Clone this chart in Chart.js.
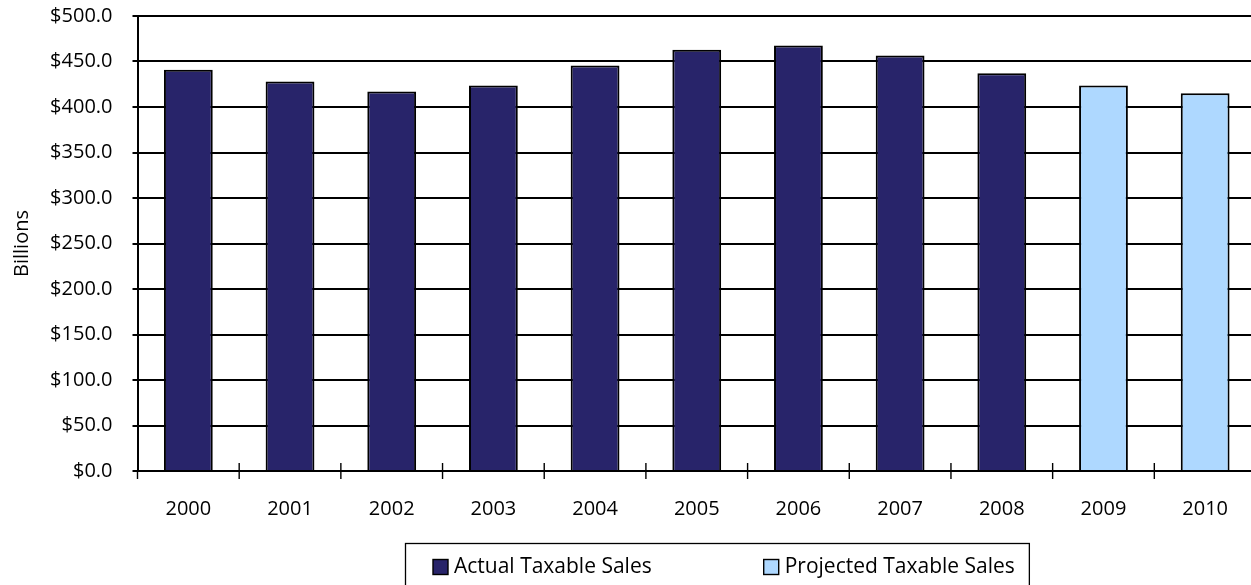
<!DOCTYPE html>
<html>
<head>
<meta charset="utf-8">
<script src="https://cdn.jsdelivr.net/npm/chart.js@4"></script>
<style>
  html, body { margin: 0; padding: 0; background: #fff; overflow: hidden; }
  #wrap { position: absolute; left: 0; top: 0; width: 1262px; height: 585px; }
</style>
</head>
<body>
<div id="wrap"><canvas id="salesChart"></canvas></div>
<script>
const years = ['2000', '2001', '2002', '2003', '2004', '2005', '2006', '2007', '2008', '2009', '2010'];
const actualSales = [441, 428, 417, 423.5, 445.5, 463, 467.5, 456.5, 437, null, null];
const projectedSales = [null, null, null, null, null, null, null, null, null, 423.5, 415];
const yTicks = [0, 50, 100, 150, 200, 250, 300, 350, 400, 450, 500];

const axisFont = { family: 'Open Sans', size: 20 };
const legendFont = '21px "Open Sans"';

// tick marks on the category axis, crossing the axis line between years
const crossTicks = {
  id: 'crossTicks',
  afterDraw(chart) {
    const x = chart.scales.x;
    const ctx = chart.ctx;
    const step = x.getPixelForValue(1) - x.getPixelForValue(0);
    const y0 = chart.chartArea.bottom;
    ctx.save();
    ctx.strokeStyle = '#000';
    ctx.lineWidth = 1.4;
    ctx.beginPath();
    for (let i = 0; i <= years.length; i++) {
      const px = x.getPixelForValue(i) - step / 2;
      ctx.moveTo(px, i === 0 ? y0 : y0 - 8);
      ctx.lineTo(px, y0 + 8);
    }
    ctx.stroke();
    ctx.restore();
  }
};

// boxed legend under the axis
const boxLegend = {
  id: 'boxLegend',
  afterDraw(chart) {
    const ctx = chart.ctx;
    const area = chart.chartArea;
    const sets = chart.data.datasets;
    ctx.save();
    ctx.font = legendFont;
    ctx.textBaseline = 'middle';
    const box = 15, gapText = 6, gapItem = 112, padX = 28;
    let total = 0;
    sets.forEach((ds, i) => {
      total += box + gapText + ctx.measureText(ds.label).width;
      if (i < sets.length - 1) total += gapItem;
    });
    const boxW = total + padX + 14;
    const left = 405;
    const top = area.bottom + 72;
    const cy = top + 24;
    ctx.strokeStyle = '#000';
    ctx.lineWidth = 1.3;
    ctx.strokeRect(left + 0.5, top + 0.5, boxW, 60);
    let px = left + padX;
    sets.forEach((ds) => {
      ctx.fillStyle = ds.backgroundColor;
      ctx.fillRect(px, cy - box / 2, box, box);
      ctx.lineWidth = 1.4;
      ctx.strokeRect(px, cy - box / 2, box, box);
      px += box + gapText;
      ctx.fillStyle = '#000';
      ctx.fillText(ds.label, px, cy);
      px += ctx.measureText(ds.label).width + gapItem;
    });
    ctx.restore();
  }
};

new Chart(document.getElementById('salesChart'), {
  type: 'bar',
  data: {
    labels: years,
    datasets: [
      {
        label: 'Actual Taxable Sales',
        data: actualSales,
        backgroundColor: '#28246a',
        borderColor: '#000',
        borderWidth: 2,
        grouped: false,
        categoryPercentage: 0.8,
        barPercentage: 0.6
      },
      {
        label: 'Projected Taxable Sales',
        data: projectedSales,
        backgroundColor: '#aed8ff',
        borderColor: '#000',
        borderWidth: 2,
        grouped: false,
        categoryPercentage: 0.8,
        barPercentage: 0.6
      }
    ]
  },
  options: {
    responsive: true,
    maintainAspectRatio: false,
    animation: false,
    layout: { padding: { top: 16, right: 6, bottom: 64, left: 0 } },
    plugins: {
      legend: { display: false },
      tooltip: { enabled: false }
    },
    scales: {
      x: {
        grid: { display: false, drawTicks: false },
        border: { display: true, color: '#000', width: 2 },
        ticks: { color: '#000', font: axisFont, padding: 26, maxRotation: 0 },
        afterFit(scale) { scale.height = 50; }
      },
      y: {
        min: 0,
        max: 500,
        afterBuildTicks(scale) { scale.ticks = yTicks.map(v => ({ value: v })); },
        grid: { color: '#000', lineWidth: 2, tickLength: 5 },
        border: { display: true, color: '#000', width: 2 },
        ticks: {
          color: '#000',
          font: axisFont,
          padding: 20,
          callback: (v) => '$' + Number(v).toFixed(1)
        },
        title: {
          display: true,
          text: 'Billions',
          color: '#000',
          font: axisFont,
          padding: { top: 10, bottom: 0 }
        },
        afterFit(scale) {
          scale.width = 137.5;
          scale.paddingTop = 0;
          scale.paddingBottom = 0;
        }
      }
    }
  },
  plugins: [crossTicks, boxLegend]
});
</script>
</body>
</html>
